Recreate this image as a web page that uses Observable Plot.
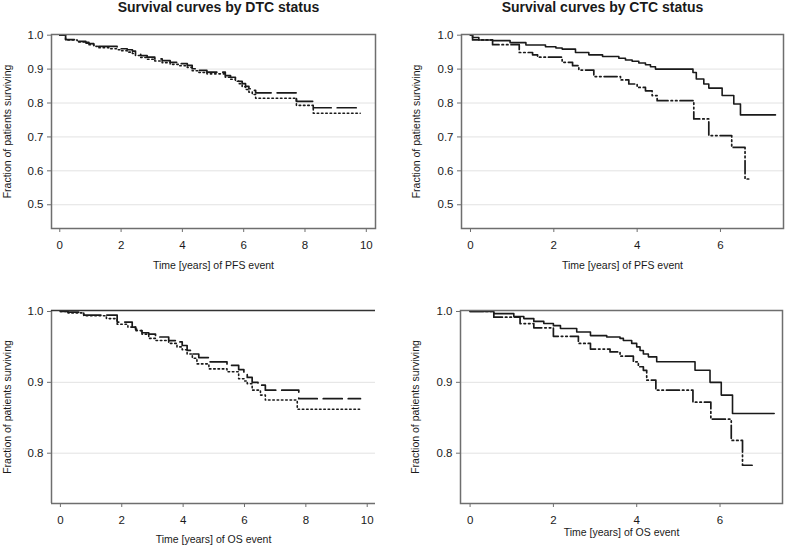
<!DOCTYPE html>
<html><head><meta charset="utf-8">
<script src="https://cdn.jsdelivr.net/npm/d3@7"></script>
<script src="https://cdn.jsdelivr.net/npm/@observablehq/plot@0.6"></script>
<style>
body{margin:0;background:#fff;}
#fig{position:relative;width:787px;height:548px;overflow:hidden;background:#fff;}
#fig svg{position:absolute;overflow:visible;}
</style></head><body><div id="fig"></div>
<script>
// ---- Data: Kaplan-Meier step points (time in years, fraction surviving) ----
// PFS by DTC status
const dtcPfsNegT = [0, 0.19, 0.57, 0.85, 0.95, 1.11, 1.27, 1.87, 2.0, 2.2, 2.37, 2.47, 2.64, 2.85, 3.1, 3.34, 3.6, 3.88, 4.16, 4.32, 4.54, 4.8, 5.4, 5.57, 5.73, 5.84, 5.95, 6.06, 6.17, 6.28, 6.39, 7.72, 8.27, 9.78];
const dtcPfsNegS = [1.0, 0.987, 0.982, 0.979, 0.975, 0.970, 0.967, 0.963, 0.96, 0.957, 0.953, 0.945, 0.94, 0.935, 0.93, 0.925, 0.92, 0.916, 0.911, 0.901, 0.896, 0.891, 0.881, 0.876, 0.871, 0.864, 0.857, 0.849, 0.842, 0.837, 0.83, 0.805, 0.786, 0.786];
const dtcPfsPosT = [0, 0.19, 0.57, 0.85, 0.95, 1.11, 1.27, 1.6, 1.87, 2.0, 2.2, 2.37, 2.47, 2.64, 2.85, 3.1, 3.34, 3.6, 3.88, 4.16, 4.32, 4.54, 4.8, 5.4, 5.57, 5.73, 5.84, 5.95, 6.06, 6.17, 6.28, 6.39, 7.72, 8.27, 9.8];
const dtcPfsPosS = [1.0, 0.986, 0.98, 0.976, 0.972, 0.967, 0.963, 0.96, 0.957, 0.954, 0.95, 0.946, 0.94, 0.934, 0.929, 0.924, 0.919, 0.914, 0.91, 0.905, 0.895, 0.89, 0.886, 0.876, 0.87, 0.864, 0.857, 0.848, 0.84, 0.832, 0.825, 0.814, 0.793, 0.77, 0.77];
// PFS by CTC status
const ctcPfsNegT = [0, 0.05, 0.2, 0.53, 0.95, 1.33, 1.8, 2.05, 2.2, 2.52, 2.84, 3.17, 3.56, 3.72, 3.88, 4.04, 4.2, 4.32, 4.44, 5.34, 5.42, 5.6, 5.72, 6.04, 6.32, 6.48, 7.32];
const ctcPfsNegS = [1.0, 0.993, 0.986, 0.984, 0.978, 0.971, 0.966, 0.962, 0.959, 0.949, 0.942, 0.937, 0.932, 0.927, 0.923, 0.918, 0.913, 0.907, 0.9, 0.89, 0.871, 0.856, 0.844, 0.822, 0.797, 0.765, 0.765];
const ctcPfsPosT = [0, 0.05, 0.53, 1.17, 1.49, 1.61, 2.2, 2.45, 2.6, 2.96, 3.6, 3.8, 4.0, 4.2, 4.36, 4.48, 5.36, 5.72, 6.27, 6.59, 6.71];
const ctcPfsPosS = [1.0, 0.986, 0.972, 0.949, 0.942, 0.935, 0.92, 0.91, 0.897, 0.878, 0.868, 0.856, 0.846, 0.836, 0.822, 0.807, 0.753, 0.704, 0.669, 0.576, 0.576];
// OS by DTC status
const dtcOsNegT = [0, 0.25, 0.76, 1.85, 2.34, 2.45, 2.55, 2.66, 2.88, 3.1, 3.53, 3.8, 3.97, 4.13, 4.24, 4.51, 4.84, 5.43, 5.81, 5.98, 6.09, 6.25, 6.44, 6.68, 7.77, 9.78];
const dtcOsNegS = [1.0, 0.999, 0.995, 0.985, 0.978, 0.975, 0.973, 0.97, 0.968, 0.964, 0.959, 0.957, 0.952, 0.945, 0.94, 0.935, 0.929, 0.924, 0.918, 0.912, 0.907, 0.9, 0.896, 0.889, 0.877, 0.877];
const dtcOsPosT = [0, 0.25, 0.76, 1.5, 1.85, 2.2, 2.45, 2.66, 2.88, 3.1, 3.53, 3.8, 3.97, 4.13, 4.3, 4.45, 4.84, 5.43, 5.81, 6.0, 6.09, 6.25, 6.52, 6.68, 7.72, 9.75];
const dtcOsPosS = [1.0, 0.998, 0.994, 0.99, 0.982, 0.978, 0.973, 0.968, 0.962, 0.959, 0.955, 0.95, 0.946, 0.94, 0.934, 0.926, 0.919, 0.915, 0.905, 0.902, 0.898, 0.889, 0.882, 0.875, 0.862, 0.862];
// OS by CTC status
const ctcOsNegT = [0, 0.57, 1.05, 1.29, 1.53, 1.77, 2.0, 2.17, 2.56, 2.89, 3.28, 3.6, 3.68, 3.88, 4.0, 4.08, 4.16, 4.28, 4.48, 5.4, 5.76, 6.03, 6.3, 7.3];
const ctcOsNegS = [1.0, 0.997, 0.993, 0.99, 0.986, 0.983, 0.98, 0.976, 0.971, 0.966, 0.964, 0.962, 0.959, 0.955, 0.95, 0.945, 0.94, 0.936, 0.929, 0.917, 0.9, 0.882, 0.856, 0.856];
const ctcOsPosT = [0, 0.57, 1.2, 1.53, 2.0, 2.6, 2.89, 3.36, 3.6, 3.92, 4.04, 4.16, 4.24, 4.46, 5.35, 5.78, 6.27, 6.54, 6.77];
const ctcOsPosS = [1.0, 0.992, 0.983, 0.977, 0.965, 0.955, 0.947, 0.943, 0.937, 0.929, 0.922, 0.917, 0.903, 0.889, 0.872, 0.848, 0.818, 0.783, 0.783];

// Tick values
const xTicksDtc = [0, 2, 4, 6, 8, 10];
const xTicksCtc = [0, 2, 4, 6];
const yTicksPfs = [0.5, 0.6, 0.7, 0.8, 0.9, 1.0];
const yTicksOs = [0.8, 0.9, 1.0];
const gridPfs = [0.5, 0.6, 0.7, 0.8, 0.9];
const gridOs = [0.8, 0.9];

// Text
const titleDtc = "Survival curves by DTC status";
const titleCtc = "Survival curves by CTC status";
const yLabel = "Fraction of patients surviving";
const xLabelPfs = "Time [years] of PFS event";
const xLabelOs = "Time [years] of OS event";

// ---- Rendering ----
const FONT = "'Liberation Sans', Arial, Helvetica, sans-serif";
const INK = "#1a1a1a";
const FRAME = "#6e6e6e";
const STYLES = {
  dashed: {strokeDasharray: "19,6", strokeWidth: 1.7},
  dotted: {strokeDasharray: "1.5,2.8", strokeWidth: 1.6},
  solid: {strokeDasharray: null, strokeWidth: 1.6},
  dashdot: {strokeDasharray: "13,3,1.5,3,1.5,3", strokeWidth: 1.7}
};
const rows = (T, S) => T.map((t, i) => ({t, s: S[i]}));
const fig = document.getElementById("fig");

function panel(c) {
  const marks = [
    Plot.gridY(c.grid, {stroke: "#e2e2e2", strokeOpacity: 1, strokeWidth: 1}),
  ];
  for (const sr of c.series) {
    const st = STYLES[sr.style];
    marks.push(Plot.line(rows(sr.t, sr.s), {
      x: "t", y: "s", curve: "step-after", stroke: INK,
      strokeWidth: st.strokeWidth, strokeDasharray: st.strokeDasharray
    }));
  }
  if (c.openRight) {
    marks.push(Plot.ruleX([c.xDomain[0]], {stroke: FRAME, strokeWidth: 1.5}));
    marks.push(Plot.ruleY([c.yDomain[0]], {stroke: FRAME, strokeWidth: 1.5}));
    marks.push(Plot.ruleY([c.yDomain[1]], {stroke: "#333", strokeWidth: 1.5}));
  } else {
    marks.push(Plot.frame({stroke: FRAME, strokeWidth: 1.5}));
  }
  marks.push(Plot.axisX(c.xTicks, {tickSize: 4, tickPadding: 8, stroke: FRAME, fill: INK, fontSize: 11.5, label: null, tickFormat: d3.format("d")}));
  marks.push(Plot.axisY(c.yTicks, {tickSize: 4, tickPadding: 4, stroke: FRAME, fill: INK, fontSize: 11.5, label: null, tickFormat: d3.format(".1f")}));
  marks.push(Plot.text([c.xLabel], {text: d => d, frameAnchor: "bottom", dy: c.xLabelDy, lineAnchor: "middle", textAnchor: "middle", fontSize: 10.5, fill: INK}));
  marks.push(Plot.text([yLabel], {text: d => d, frameAnchor: "left", dx: c.yLabelDx, rotate: -90, lineAnchor: "middle", textAnchor: "middle", fontSize: 10.5, fill: INK}));
  if (c.title) {
    marks.push(Plot.text([c.title], {text: d => d, frameAnchor: "top", dy: c.titleDy, dx: c.titleDx, lineAnchor: "middle", textAnchor: "middle", fontSize: 14, fontWeight: "bold", fill: INK}));
  }
  const svg = Plot.plot({
    width: c.width, height: c.height,
    marginLeft: c.m[0], marginRight: c.m[1], marginTop: c.m[2], marginBottom: c.m[3],
    x: {domain: c.xDomain, axis: null},
    y: {domain: c.yDomain, axis: null},
    style: {fontFamily: FONT, background: "transparent", overflow: "visible"},
    marks
  });
  svg.style.left = c.left + "px";
  svg.style.top = c.top + "px";
  fig.appendChild(svg);
}

panel({
  left: 0, top: 0, width: 393, height: 270, m: [51, 18, 34, 42],
  xDomain: [-0.27, 10.3], yDomain: [0.43, 1.002],
  xTicks: xTicksDtc, yTicks: yTicksPfs, grid: gridPfs,
  title: titleDtc, titleDy: -27, titleDx: 5,
  xLabel: xLabelPfs, xLabelDy: 37, yLabelDx: -44,
  series: [
    {t: dtcPfsNegT, s: dtcPfsNegS, style: "dashed"},
    {t: dtcPfsPosT, s: dtcPfsPosS, style: "dotted"}
  ]
});
panel({
  left: 393, top: 0, width: 394, height: 270, m: [68, 4, 34, 42],
  xDomain: [-0.216, 7.513], yDomain: [0.43, 1.002],
  xTicks: xTicksCtc, yTicks: yTicksPfs, grid: gridPfs,
  title: titleCtc, titleDy: -27, titleDx: -20,
  xLabel: xLabelPfs, xLabelDy: 37, yLabelDx: -45,
  series: [
    {t: ctcPfsNegT, s: ctcPfsNegS, style: "solid"},
    {t: ctcPfsPosT, s: ctcPfsPosS, style: "dashdot"}
  ]
});
panel({
  left: 0, top: 270, width: 393, height: 278, m: [51, 18, 40, 45],
  xDomain: [-0.29, 10.27], yDomain: [0.729, 1.0014],
  xTicks: xTicksDtc, yTicks: yTicksOs, grid: gridOs, openRight: true,
  xLabel: xLabelOs, xLabelDy: 36.5, yLabelDx: -44,
  series: [
    {t: dtcOsNegT, s: dtcOsNegS, style: "dashed"},
    {t: dtcOsPosT, s: dtcOsPosS, style: "dotted"}
  ]
});
panel({
  left: 393, top: 270, width: 394, height: 278, m: [67, 5, 40, 45],
  xDomain: [-0.23, 7.5], yDomain: [0.729, 1.0014],
  xTicks: xTicksCtc, yTicks: yTicksOs, grid: gridOs,
  xLabel: xLabelOs, xLabelDy: 29, yLabelDx: -45,
  series: [
    {t: ctcOsNegT, s: ctcOsNegS, style: "solid"},
    {t: ctcOsPosT, s: ctcOsPosS, style: "dashdot"}
  ]
});
</script></body></html>
